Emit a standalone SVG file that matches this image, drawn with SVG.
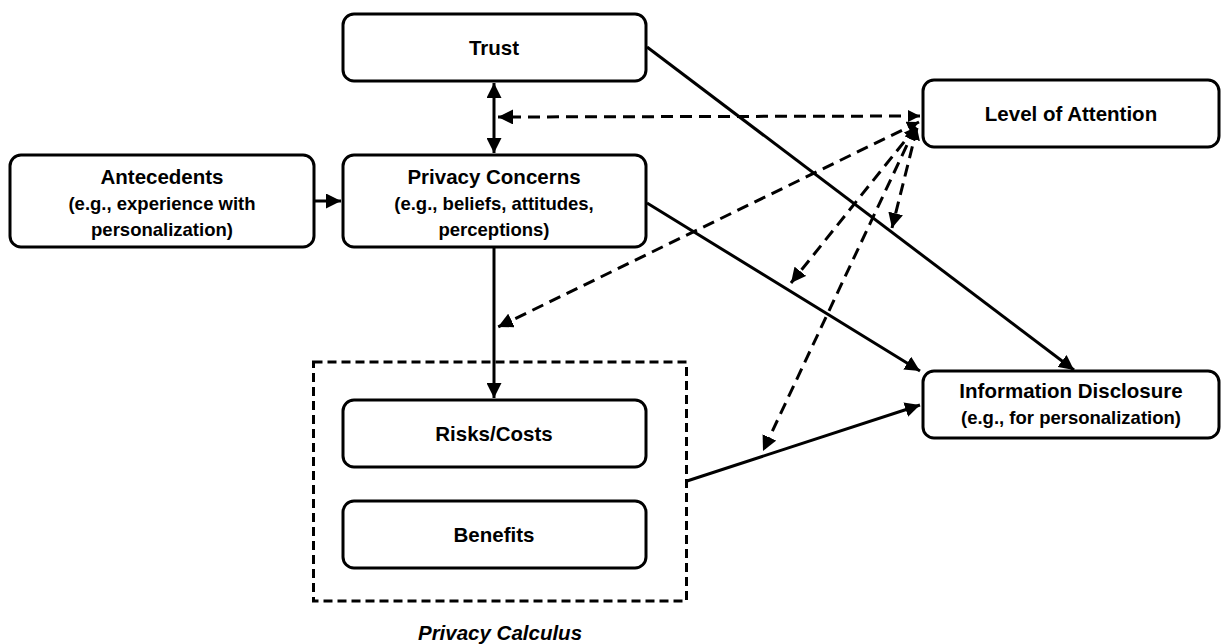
<svg xmlns="http://www.w3.org/2000/svg" width="1221" height="644" viewBox="0 0 1221 644">
<style>
.box{fill:#fff;stroke:#000;stroke-width:3}
.t{font-family:"Liberation Sans",Arial,sans-serif;font-weight:bold;font-size:20.5px;text-anchor:middle;fill:#000}
.s{font-size:18.5px}
.ln{stroke:#000;stroke-width:3;fill:none}
.dl{stroke:#000;stroke-width:3;fill:none;stroke-dasharray:12 7}
</style>
<defs>
<marker id="ah" viewBox="0 0 10 10" refX="10" refY="5" markerWidth="5" markerHeight="5" orient="auto-start-reverse" markerUnits="strokeWidth">
<path d="M0,0 L10,5 L0,10 z" fill="#000"/>
</marker>
<marker id="ahs" viewBox="0 0 10 10" refX="10" refY="5" markerWidth="4" markerHeight="4" orient="auto-start-reverse" markerUnits="strokeWidth">
<path d="M0,0 L10,5 L0,10 z" fill="#000"/>
</marker>
</defs>
<g id="connectors">
<line class="ln" x1="314" y1="201" x2="341" y2="201" marker-end="url(#ah)"/>
<line class="ln" x1="494" y1="83" x2="494" y2="153" marker-start="url(#ah)" marker-end="url(#ah)"/>
<line class="ln" x1="494" y1="247" x2="494" y2="398" marker-end="url(#ah)"/>
<line class="ln" x1="647" y1="47" x2="1074" y2="370" marker-end="url(#ah)"/>
<line class="ln" x1="647" y1="203" x2="920" y2="371" marker-end="url(#ah)"/>
<line class="ln" x1="687" y1="481" x2="920" y2="405" marker-end="url(#ah)"/>
<line class="dl" x1="920" y1="116" x2="498" y2="117" marker-start="url(#ahs)" marker-end="url(#ah)"/>
<line class="dl" x1="919" y1="122" x2="498" y2="327" marker-start="url(#ahs)" marker-end="url(#ah)"/>
<line class="dl" x1="916" y1="127" x2="791" y2="283" marker-start="url(#ahs)" marker-end="url(#ah)"/>
<line class="dl" x1="917" y1="128" x2="892" y2="228" marker-start="url(#ahs)" marker-end="url(#ah)"/>
<line class="dl" x1="915" y1="128" x2="763" y2="451" marker-start="url(#ahs)" marker-end="url(#ah)"/>
</g>
<g id="trust">
<rect class="box" x="343" y="14" width="303" height="67" rx="11"/>
<text class="t" x="494" y="55">Trust</text>
</g>
<g id="antecedents">
<rect class="box" x="10" y="155" width="304" height="92" rx="11"/>
<text class="t" x="162" y="184">Antecedents</text>
<text class="t s" x="162" y="210">(e.g., experience with</text>
<text class="t s" x="162" y="236">personalization)</text>
</g>
<g id="privacy-concerns">
<rect class="box" x="343" y="155" width="303" height="92" rx="11"/>
<text class="t" x="494" y="184">Privacy Concerns</text>
<text class="t s" x="494" y="210">(e.g., beliefs, attitudes,</text>
<text class="t s" x="494" y="236">perceptions)</text>
</g>
<g id="level-of-attention">
<rect class="box" x="923" y="80" width="296" height="67" rx="11"/>
<text class="t" x="1071" y="121">Level of Attention</text>
</g>
<g id="information-disclosure">
<rect class="box" x="923" y="371" width="296" height="67" rx="11"/>
<text class="t" x="1071" y="398">Information Disclosure</text>
<text class="t s" x="1071" y="424">(e.g., for personalization)</text>
</g>
<g id="privacy-calculus">
<rect x="313.5" y="362" width="373" height="239" fill="none" stroke="#000" stroke-width="3" stroke-dasharray="9 5"/>
<text class="t" x="500" y="640" font-style="italic">Privacy Calculus</text>
</g>
<g id="risks-costs">
<rect class="box" x="343" y="400" width="303" height="67" rx="11"/>
<text class="t" x="494" y="441">Risks/Costs</text>
</g>
<g id="benefits">
<rect class="box" x="343" y="501" width="303" height="67" rx="11"/>
<text class="t" x="494" y="542">Benefits</text>
</g>
</svg>
